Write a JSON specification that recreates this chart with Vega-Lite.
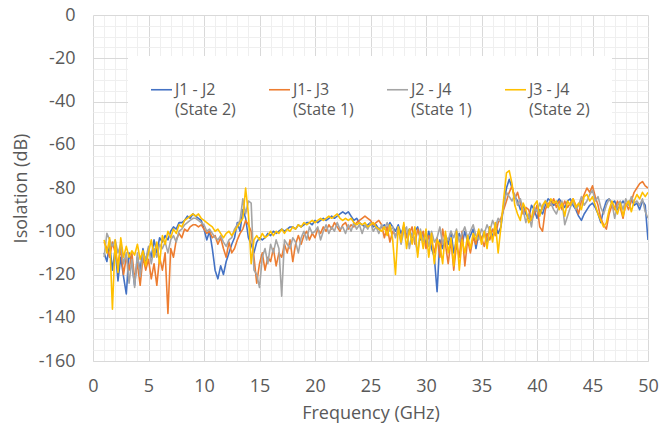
{
"$schema": "https://vega.github.io/schema/vega-lite/v6.json",
"autosize": "none",
"width": 555,
"height": 346,
"padding": {"left": 93, "top": 15, "right": 13, "bottom": 67},
"background": "white",
"config": {"view": {"stroke": null}, "font": "Open Sans"},
"data": {"values": [
{"f":1.0,"s":"a","v":-110},{"f":1.0,"s":"b","v":-105},{"f":1.0,"s":"c","v":-112},{"f":1.0,"s":"d","v":-104},
{"f":1.25,"s":"a","v":-114},{"f":1.25,"s":"b","v":-108},{"f":1.25,"s":"c","v":-101},{"f":1.25,"s":"d","v":-110},
{"f":1.5,"s":"a","v":-106},{"f":1.5,"s":"b","v":-112},{"f":1.5,"s":"c","v":-104},{"f":1.5,"s":"d","v":-103},
{"f":1.75,"s":"a","v":-118},{"f":1.75,"s":"b","v":-105},{"f":1.75,"s":"c","v":-107},{"f":1.75,"s":"d","v":-136},
{"f":2.0,"s":"a","v":-108},{"f":2.0,"s":"b","v":-110},{"f":2.0,"s":"c","v":-104},{"f":2.0,"s":"d","v":-104},
{"f":2.25,"s":"a","v":-123},{"f":2.25,"s":"b","v":-115},{"f":2.25,"s":"c","v":-110},{"f":2.25,"s":"d","v":-119},
{"f":2.5,"s":"a","v":-112},{"f":2.5,"s":"b","v":-108},{"f":2.5,"s":"c","v":-106},{"f":2.5,"s":"d","v":-103},
{"f":2.75,"s":"a","v":-121},{"f":2.75,"s":"b","v":-120},{"f":2.75,"s":"c","v":-115},{"f":2.75,"s":"d","v":-112},
{"f":3.0,"s":"a","v":-129},{"f":3.0,"s":"b","v":-112},{"f":3.0,"s":"c","v":-110},{"f":3.0,"s":"d","v":-107},
{"f":3.25,"s":"a","v":-110},{"f":3.25,"s":"b","v":-118},{"f":3.25,"s":"c","v":-124},{"f":3.25,"s":"d","v":-112},
{"f":3.5,"s":"a","v":-115},{"f":3.5,"s":"b","v":-110},{"f":3.5,"s":"c","v":-113},{"f":3.5,"s":"d","v":-109},
{"f":3.75,"s":"a","v":-125},{"f":3.75,"s":"b","v":-122},{"f":3.75,"s":"c","v":-126},{"f":3.75,"s":"d","v":-111},
{"f":4.0,"s":"a","v":-112},{"f":4.0,"s":"b","v":-115},{"f":4.0,"s":"c","v":-110},{"f":4.0,"s":"d","v":-106},
{"f":4.25,"s":"a","v":-118},{"f":4.25,"s":"b","v":-125},{"f":4.25,"s":"c","v":-121},{"f":4.25,"s":"d","v":-113},
{"f":4.5,"s":"a","v":-108},{"f":4.5,"s":"b","v":-112},{"f":4.5,"s":"c","v":-110},{"f":4.5,"s":"d","v":-109},
{"f":4.75,"s":"a","v":-115},{"f":4.75,"s":"b","v":-118},{"f":4.75,"s":"c","v":-113},{"f":4.75,"s":"d","v":-116},
{"f":5.0,"s":"a","v":-108},{"f":5.0,"s":"b","v":-113},{"f":5.0,"s":"c","v":-107},{"f":5.0,"s":"d","v":-110},
{"f":5.25,"s":"a","v":-112},{"f":5.25,"s":"b","v":-122},{"f":5.25,"s":"c","v":-115},{"f":5.25,"s":"d","v":-104},
{"f":5.5,"s":"a","v":-104},{"f":5.5,"s":"b","v":-115},{"f":5.5,"s":"c","v":-108},{"f":5.5,"s":"d","v":-112},
{"f":5.75,"s":"a","v":-110},{"f":5.75,"s":"b","v":-125},{"f":5.75,"s":"c","v":-112},{"f":5.75,"s":"d","v":-105},
{"f":6.0,"s":"a","v":-103},{"f":6.0,"s":"b","v":-112},{"f":6.0,"s":"c","v":-106},{"f":6.0,"s":"d","v":-115},
{"f":6.25,"s":"a","v":-105},{"f":6.25,"s":"b","v":-118},{"f":6.25,"s":"c","v":-108},{"f":6.25,"s":"d","v":-102},
{"f":6.5,"s":"a","v":-102},{"f":6.5,"s":"b","v":-110},{"f":6.5,"s":"c","v":-105},{"f":6.5,"s":"d","v":-106},
{"f":6.75,"s":"a","v":-104},{"f":6.75,"s":"b","v":-138},{"f":6.75,"s":"c","v":-110},{"f":6.75,"s":"d","v":-100},
{"f":7.0,"s":"a","v":-100},{"f":7.0,"s":"b","v":-108},{"f":7.0,"s":"c","v":-104},{"f":7.0,"s":"d","v":-103},
{"f":7.25,"s":"a","v":-98},{"f":7.25,"s":"b","v":-112},{"f":7.25,"s":"c","v":-102},{"f":7.25,"s":"d","v":-99},
{"f":7.5,"s":"a","v":-99},{"f":7.5,"s":"b","v":-104},{"f":7.5,"s":"c","v":-105},{"f":7.5,"s":"d","v":-101},
{"f":7.75,"s":"a","v":-96},{"f":7.75,"s":"b","v":-101},{"f":7.75,"s":"c","v":-100},{"f":7.75,"s":"d","v":-97},
{"f":8.0,"s":"a","v":-96},{"f":8.0,"s":"b","v":-103},{"f":8.0,"s":"c","v":-99},{"f":8.0,"s":"d","v":-98},
{"f":8.25,"s":"a","v":-95},{"f":8.25,"s":"b","v":-99},{"f":8.25,"s":"c","v":-97},{"f":8.25,"s":"d","v":-95},
{"f":8.5,"s":"a","v":-93},{"f":8.5,"s":"b","v":-100},{"f":8.5,"s":"c","v":-96},{"f":8.5,"s":"d","v":-94},
{"f":8.75,"s":"a","v":-94},{"f":8.75,"s":"b","v":-98},{"f":8.75,"s":"c","v":-95},{"f":8.75,"s":"d","v":-93},
{"f":9.0,"s":"a","v":-92},{"f":9.0,"s":"b","v":-97},{"f":9.0,"s":"c","v":-94},{"f":9.0,"s":"d","v":-92},
{"f":9.25,"s":"a","v":-93},{"f":9.25,"s":"b","v":-97},{"f":9.25,"s":"c","v":-94},{"f":9.25,"s":"d","v":-93},
{"f":9.5,"s":"a","v":-94},{"f":9.5,"s":"b","v":-98},{"f":9.5,"s":"c","v":-95},{"f":9.5,"s":"d","v":-92},
{"f":9.75,"s":"a","v":-95},{"f":9.75,"s":"b","v":-97},{"f":9.75,"s":"c","v":-96},{"f":9.75,"s":"d","v":-94},
{"f":10.0,"s":"a","v":-99},{"f":10.0,"s":"b","v":-99},{"f":10.0,"s":"c","v":-97},{"f":10.0,"s":"d","v":-95},
{"f":10.25,"s":"a","v":-104},{"f":10.25,"s":"b","v":-101},{"f":10.25,"s":"c","v":-100},{"f":10.25,"s":"d","v":-96},
{"f":10.5,"s":"a","v":-100},{"f":10.5,"s":"b","v":-100},{"f":10.5,"s":"c","v":-99},{"f":10.5,"s":"d","v":-97},
{"f":10.75,"s":"a","v":-108},{"f":10.75,"s":"b","v":-103},{"f":10.75,"s":"c","v":-101},{"f":10.75,"s":"d","v":-98},
{"f":11.0,"s":"a","v":-118},{"f":11.0,"s":"b","v":-102},{"f":11.0,"s":"c","v":-103},{"f":11.0,"s":"d","v":-100},
{"f":11.25,"s":"a","v":-122},{"f":11.25,"s":"b","v":-106},{"f":11.25,"s":"c","v":-104},{"f":11.25,"s":"d","v":-99},
{"f":11.5,"s":"a","v":-116},{"f":11.5,"s":"b","v":-103},{"f":11.5,"s":"c","v":-102},{"f":11.5,"s":"d","v":-101},
{"f":11.75,"s":"a","v":-120},{"f":11.75,"s":"b","v":-108},{"f":11.75,"s":"c","v":-105},{"f":11.75,"s":"d","v":-103},
{"f":12.0,"s":"a","v":-114},{"f":12.0,"s":"b","v":-112},{"f":12.0,"s":"c","v":-107},{"f":12.0,"s":"d","v":-101},
{"f":12.25,"s":"a","v":-110},{"f":12.25,"s":"b","v":-105},{"f":12.25,"s":"c","v":-104},{"f":12.25,"s":"d","v":-100},
{"f":12.5,"s":"a","v":-106},{"f":12.5,"s":"b","v":-110},{"f":12.5,"s":"c","v":-103},{"f":12.5,"s":"d","v":-102},
{"f":12.75,"s":"a","v":-103},{"f":12.75,"s":"b","v":-108},{"f":12.75,"s":"c","v":-99},{"f":12.75,"s":"d","v":-100},
{"f":13.0,"s":"a","v":-96},{"f":13.0,"s":"b","v":-104},{"f":13.0,"s":"c","v":-97},{"f":13.0,"s":"d","v":-98},
{"f":13.25,"s":"a","v":-100},{"f":13.25,"s":"b","v":-101},{"f":13.25,"s":"c","v":-95},{"f":13.25,"s":"d","v":-96},
{"f":13.5,"s":"a","v":-90},{"f":13.5,"s":"b","v":-99},{"f":13.5,"s":"c","v":-85},{"f":13.5,"s":"d","v":-94},
{"f":13.75,"s":"a","v":-94},{"f":13.75,"s":"b","v":-95},{"f":13.75,"s":"c","v":-92},{"f":13.75,"s":"d","v":-80},
{"f":14.0,"s":"a","v":-103},{"f":14.0,"s":"b","v":-97},{"f":14.0,"s":"c","v":-86},{"f":14.0,"s":"d","v":-92},
{"f":14.25,"s":"a","v":-106},{"f":14.25,"s":"b","v":-100},{"f":14.25,"s":"c","v":-87},{"f":14.25,"s":"d","v":-115},
{"f":14.5,"s":"a","v":-110},{"f":14.5,"s":"b","v":-112},{"f":14.5,"s":"c","v":-118},{"f":14.5,"s":"d","v":-104},
{"f":14.75,"s":"a","v":-105},{"f":14.75,"s":"b","v":-124},{"f":14.75,"s":"c","v":-120},{"f":14.75,"s":"d","v":-102},
{"f":15.0,"s":"a","v":-103},{"f":15.0,"s":"b","v":-115},{"f":15.0,"s":"c","v":-126},{"f":15.0,"s":"d","v":-104},
{"f":15.25,"s":"a","v":-104},{"f":15.25,"s":"b","v":-110},{"f":15.25,"s":"c","v":-112},{"f":15.25,"s":"d","v":-101},
{"f":15.5,"s":"a","v":-103},{"f":15.5,"s":"b","v":-118},{"f":15.5,"s":"c","v":-108},{"f":15.5,"s":"d","v":-103},
{"f":15.75,"s":"a","v":-101},{"f":15.75,"s":"b","v":-112},{"f":15.75,"s":"c","v":-115},{"f":15.75,"s":"d","v":-102},
{"f":16.0,"s":"a","v":-102},{"f":16.0,"s":"b","v":-114},{"f":16.0,"s":"c","v":-106},{"f":16.0,"s":"d","v":-100},
{"f":16.25,"s":"a","v":-100},{"f":16.25,"s":"b","v":-108},{"f":16.25,"s":"c","v":-110},{"f":16.25,"s":"d","v":-102},
{"f":16.5,"s":"a","v":-101},{"f":16.5,"s":"b","v":-116},{"f":16.5,"s":"c","v":-104},{"f":16.5,"s":"d","v":-100},
{"f":16.75,"s":"a","v":-100},{"f":16.75,"s":"b","v":-110},{"f":16.75,"s":"c","v":-108},{"f":16.75,"s":"d","v":-101},
{"f":17.0,"s":"a","v":-99},{"f":17.0,"s":"b","v":-112},{"f":17.0,"s":"c","v":-130},{"f":17.0,"s":"d","v":-99},
{"f":17.25,"s":"a","v":-100},{"f":17.25,"s":"b","v":-106},{"f":17.25,"s":"c","v":-104},{"f":17.25,"s":"d","v":-101},
{"f":17.5,"s":"a","v":-99},{"f":17.5,"s":"b","v":-110},{"f":17.5,"s":"c","v":-106},{"f":17.5,"s":"d","v":-99},
{"f":17.75,"s":"a","v":-98},{"f":17.75,"s":"b","v":-104},{"f":17.75,"s":"c","v":-108},{"f":17.75,"s":"d","v":-100},
{"f":18.0,"s":"a","v":-98},{"f":18.0,"s":"b","v":-114},{"f":18.0,"s":"c","v":-103},{"f":18.0,"s":"d","v":-98},
{"f":18.25,"s":"a","v":-99},{"f":18.25,"s":"b","v":-106},{"f":18.25,"s":"c","v":-105},{"f":18.25,"s":"d","v":-99},
{"f":18.5,"s":"a","v":-97},{"f":18.5,"s":"b","v":-102},{"f":18.5,"s":"c","v":-110},{"f":18.5,"s":"d","v":-97},
{"f":18.75,"s":"a","v":-98},{"f":18.75,"s":"b","v":-106},{"f":18.75,"s":"c","v":-103},{"f":18.75,"s":"d","v":-98},
{"f":19.0,"s":"a","v":-97},{"f":19.0,"s":"b","v":-102},{"f":19.0,"s":"c","v":-100},{"f":19.0,"s":"d","v":-96},
{"f":19.25,"s":"a","v":-96},{"f":19.25,"s":"b","v":-100},{"f":19.25,"s":"c","v":-104},{"f":19.25,"s":"d","v":-97},
{"f":19.5,"s":"a","v":-96},{"f":19.5,"s":"b","v":-104},{"f":19.5,"s":"c","v":-98},{"f":19.5,"s":"d","v":-96},
{"f":19.75,"s":"a","v":-97},{"f":19.75,"s":"b","v":-101},{"f":19.75,"s":"c","v":-101},{"f":19.75,"s":"d","v":-95},
{"f":20.0,"s":"a","v":-95},{"f":20.0,"s":"b","v":-103},{"f":20.0,"s":"c","v":-100},{"f":20.0,"s":"d","v":-96},
{"f":20.25,"s":"a","v":-96},{"f":20.25,"s":"b","v":-99},{"f":20.25,"s":"c","v":-98},{"f":20.25,"s":"d","v":-95},
{"f":20.5,"s":"a","v":-95},{"f":20.5,"s":"b","v":-101},{"f":20.5,"s":"c","v":-104},{"f":20.5,"s":"d","v":-94},
{"f":20.75,"s":"a","v":-94},{"f":20.75,"s":"b","v":-98},{"f":20.75,"s":"c","v":-100},{"f":20.75,"s":"d","v":-95},
{"f":21.0,"s":"a","v":-95},{"f":21.0,"s":"b","v":-100},{"f":21.0,"s":"c","v":-97},{"f":21.0,"s":"d","v":-94},
{"f":21.25,"s":"a","v":-94},{"f":21.25,"s":"b","v":-97},{"f":21.25,"s":"c","v":-101},{"f":21.25,"s":"d","v":-93},
{"f":21.5,"s":"a","v":-93},{"f":21.5,"s":"b","v":-99},{"f":21.5,"s":"c","v":-98},{"f":21.5,"s":"d","v":-94},
{"f":21.75,"s":"a","v":-94},{"f":21.75,"s":"b","v":-96},{"f":21.75,"s":"c","v":-100},{"f":21.75,"s":"d","v":-93},
{"f":22.0,"s":"a","v":-93},{"f":22.0,"s":"b","v":-98},{"f":22.0,"s":"c","v":-96},{"f":22.0,"s":"d","v":-92},
{"f":22.25,"s":"a","v":-92},{"f":22.25,"s":"b","v":-100},{"f":22.25,"s":"c","v":-99},{"f":22.25,"s":"d","v":-94},
{"f":22.5,"s":"a","v":-91},{"f":22.5,"s":"b","v":-97},{"f":22.5,"s":"c","v":-98},{"f":22.5,"s":"d","v":-95},
{"f":22.75,"s":"a","v":-92},{"f":22.75,"s":"b","v":-96},{"f":22.75,"s":"c","v":-101},{"f":22.75,"s":"d","v":-94},
{"f":23.0,"s":"a","v":-91},{"f":23.0,"s":"b","v":-99},{"f":23.0,"s":"c","v":-97},{"f":23.0,"s":"d","v":-95},
{"f":23.25,"s":"a","v":-93},{"f":23.25,"s":"b","v":-97},{"f":23.25,"s":"c","v":-100},{"f":23.25,"s":"d","v":-94},
{"f":23.5,"s":"a","v":-95},{"f":23.5,"s":"b","v":-98},{"f":23.5,"s":"c","v":-96},{"f":23.5,"s":"d","v":-96},
{"f":23.75,"s":"a","v":-94},{"f":23.75,"s":"b","v":-96},{"f":23.75,"s":"c","v":-99},{"f":23.75,"s":"d","v":-97},
{"f":24.0,"s":"a","v":-96},{"f":24.0,"s":"b","v":-95},{"f":24.0,"s":"c","v":-97},{"f":24.0,"s":"d","v":-96},
{"f":24.25,"s":"a","v":-97},{"f":24.25,"s":"b","v":-94},{"f":24.25,"s":"c","v":-101},{"f":24.25,"s":"d","v":-97},
{"f":24.5,"s":"a","v":-98},{"f":24.5,"s":"b","v":-93},{"f":24.5,"s":"c","v":-97},{"f":24.5,"s":"d","v":-96},
{"f":24.75,"s":"a","v":-97},{"f":24.75,"s":"b","v":-94},{"f":24.75,"s":"c","v":-99},{"f":24.75,"s":"d","v":-98},
{"f":25.0,"s":"a","v":-96},{"f":25.0,"s":"b","v":-95},{"f":25.0,"s":"c","v":-96},{"f":25.0,"s":"d","v":-97},
{"f":25.25,"s":"a","v":-98},{"f":25.25,"s":"b","v":-97},{"f":25.25,"s":"c","v":-100},{"f":25.25,"s":"d","v":-96},
{"f":25.5,"s":"a","v":-97},{"f":25.5,"s":"b","v":-96},{"f":25.5,"s":"c","v":-98},{"f":25.5,"s":"d","v":-98},
{"f":25.75,"s":"a","v":-99},{"f":25.75,"s":"b","v":-95},{"f":25.75,"s":"c","v":-101},{"f":25.75,"s":"d","v":-99},
{"f":26.0,"s":"a","v":-98},{"f":26.0,"s":"b","v":-97},{"f":26.0,"s":"c","v":-97},{"f":26.0,"s":"d","v":-100},
{"f":26.25,"s":"a","v":-97},{"f":26.25,"s":"b","v":-103},{"f":26.25,"s":"c","v":-99},{"f":26.25,"s":"d","v":-98},
{"f":26.5,"s":"a","v":-99},{"f":26.5,"s":"b","v":-98},{"f":26.5,"s":"c","v":-96},{"f":26.5,"s":"d","v":-102},
{"f":26.75,"s":"a","v":-96},{"f":26.75,"s":"b","v":-105},{"f":26.75,"s":"c","v":-100},{"f":26.75,"s":"d","v":-97},
{"f":27.0,"s":"a","v":-98},{"f":27.0,"s":"b","v":-100},{"f":27.0,"s":"c","v":-98},{"f":27.0,"s":"d","v":-104},
{"f":27.25,"s":"a","v":-100},{"f":27.25,"s":"b","v":-102},{"f":27.25,"s":"c","v":-103},{"f":27.25,"s":"d","v":-120},
{"f":27.5,"s":"a","v":-97},{"f":27.5,"s":"b","v":-99},{"f":27.5,"s":"c","v":-98},{"f":27.5,"s":"d","v":-98},
{"f":27.75,"s":"a","v":-101},{"f":27.75,"s":"b","v":-104},{"f":27.75,"s":"c","v":-106},{"f":27.75,"s":"d","v":-105},
{"f":28.0,"s":"a","v":-98},{"f":28.0,"s":"b","v":-97},{"f":28.0,"s":"c","v":-100},{"f":28.0,"s":"d","v":-96},
{"f":28.25,"s":"a","v":-102},{"f":28.25,"s":"b","v":-103},{"f":28.25,"s":"c","v":-98},{"f":28.25,"s":"d","v":-108},
{"f":28.5,"s":"a","v":-99},{"f":28.5,"s":"b","v":-101},{"f":28.5,"s":"c","v":-108},{"f":28.5,"s":"d","v":-99},
{"f":28.75,"s":"a","v":-103},{"f":28.75,"s":"b","v":-98},{"f":28.75,"s":"c","v":-101},{"f":28.75,"s":"d","v":-106},
{"f":29.0,"s":"a","v":-100},{"f":29.0,"s":"b","v":-106},{"f":29.0,"s":"c","v":-104},{"f":29.0,"s":"d","v":-98},
{"f":29.25,"s":"a","v":-98},{"f":29.25,"s":"b","v":-99},{"f":29.25,"s":"c","v":-110},{"f":29.25,"s":"d","v":-112},
{"f":29.5,"s":"a","v":-104},{"f":29.5,"s":"b","v":-103},{"f":29.5,"s":"c","v":-99},{"f":29.5,"s":"d","v":-100},
{"f":29.75,"s":"a","v":-101},{"f":29.75,"s":"b","v":-100},{"f":29.75,"s":"c","v":-105},{"f":29.75,"s":"d","v":-108},
{"f":30.0,"s":"a","v":-106},{"f":30.0,"s":"b","v":-108},{"f":30.0,"s":"c","v":-101},{"f":30.0,"s":"d","v":-99},
{"f":30.25,"s":"a","v":-100},{"f":30.25,"s":"b","v":-102},{"f":30.25,"s":"c","v":-107},{"f":30.25,"s":"d","v":-112},
{"f":30.5,"s":"a","v":-108},{"f":30.5,"s":"b","v":-104},{"f":30.5,"s":"c","v":-100},{"f":30.5,"s":"d","v":-101},
{"f":30.75,"s":"a","v":-112},{"f":30.75,"s":"b","v":-110},{"f":30.75,"s":"c","v":-105},{"f":30.75,"s":"d","v":-115},
{"f":31.0,"s":"a","v":-128},{"f":31.0,"s":"b","v":-103},{"f":31.0,"s":"c","v":-103},{"f":31.0,"s":"d","v":-104},
{"f":31.25,"s":"a","v":-104},{"f":31.25,"s":"b","v":-112},{"f":31.25,"s":"c","v":-98},{"f":31.25,"s":"d","v":-106},
{"f":31.5,"s":"a","v":-108},{"f":31.5,"s":"b","v":-99},{"f":31.5,"s":"c","v":-106},{"f":31.5,"s":"d","v":-115},
{"f":31.75,"s":"a","v":-102},{"f":31.75,"s":"b","v":-106},{"f":31.75,"s":"c","v":-102},{"f":31.75,"s":"d","v":-100},
{"f":32.0,"s":"a","v":-106},{"f":32.0,"s":"b","v":-115},{"f":32.0,"s":"c","v":-104},{"f":32.0,"s":"d","v":-110},
{"f":32.25,"s":"a","v":-100},{"f":32.25,"s":"b","v":-104},{"f":32.25,"s":"c","v":-100},{"f":32.25,"s":"d","v":-103},
{"f":32.5,"s":"a","v":-110},{"f":32.5,"s":"b","v":-118},{"f":32.5,"s":"c","v":-103},{"f":32.5,"s":"d","v":-116},
{"f":32.75,"s":"a","v":-104},{"f":32.75,"s":"b","v":-106},{"f":32.75,"s":"c","v":-99},{"f":32.75,"s":"d","v":-100},
{"f":33.0,"s":"a","v":-101},{"f":33.0,"s":"b","v":-112},{"f":33.0,"s":"c","v":-105},{"f":33.0,"s":"d","v":-118},
{"f":33.25,"s":"a","v":-106},{"f":33.25,"s":"b","v":-100},{"f":33.25,"s":"c","v":-101},{"f":33.25,"s":"d","v":-104},
{"f":33.5,"s":"a","v":-100},{"f":33.5,"s":"b","v":-116},{"f":33.5,"s":"c","v":-98},{"f":33.5,"s":"d","v":-110},
{"f":33.75,"s":"a","v":-105},{"f":33.75,"s":"b","v":-104},{"f":33.75,"s":"c","v":-103},{"f":33.75,"s":"d","v":-102},
{"f":34.0,"s":"a","v":-102},{"f":34.0,"s":"b","v":-110},{"f":34.0,"s":"c","v":-100},{"f":34.0,"s":"d","v":-108},
{"f":34.25,"s":"a","v":-99},{"f":34.25,"s":"b","v":-103},{"f":34.25,"s":"c","v":-97},{"f":34.25,"s":"d","v":-101},
{"f":34.5,"s":"a","v":-108},{"f":34.5,"s":"b","v":-106},{"f":34.5,"s":"c","v":-102},{"f":34.5,"s":"d","v":-104},
{"f":34.75,"s":"a","v":-101},{"f":34.75,"s":"b","v":-100},{"f":34.75,"s":"c","v":-104},{"f":34.75,"s":"d","v":-99},
{"f":35.0,"s":"a","v":-104},{"f":35.0,"s":"b","v":-103},{"f":35.0,"s":"c","v":-99},{"f":35.0,"s":"d","v":-106},
{"f":35.25,"s":"a","v":-100},{"f":35.25,"s":"b","v":-107},{"f":35.25,"s":"c","v":-101},{"f":35.25,"s":"d","v":-100},
{"f":35.5,"s":"a","v":-106},{"f":35.5,"s":"b","v":-101},{"f":35.5,"s":"c","v":-97},{"f":35.5,"s":"d","v":-108},
{"f":35.75,"s":"a","v":-98},{"f":35.75,"s":"b","v":-104},{"f":35.75,"s":"c","v":-100},{"f":35.75,"s":"d","v":-98},
{"f":36.0,"s":"a","v":-103},{"f":36.0,"s":"b","v":-99},{"f":36.0,"s":"c","v":-95},{"f":36.0,"s":"d","v":-105},
{"f":36.25,"s":"a","v":-97},{"f":36.25,"s":"b","v":-102},{"f":36.25,"s":"c","v":-98},{"f":36.25,"s":"d","v":-96},
{"f":36.5,"s":"a","v":-101},{"f":36.5,"s":"b","v":-96},{"f":36.5,"s":"c","v":-94},{"f":36.5,"s":"d","v":-110},
{"f":36.75,"s":"a","v":-98},{"f":36.75,"s":"b","v":-94},{"f":36.75,"s":"c","v":-96},{"f":36.75,"s":"d","v":-98},
{"f":37.0,"s":"a","v":-88},{"f":37.0,"s":"b","v":-90},{"f":37.0,"s":"c","v":-88},{"f":37.0,"s":"d","v":-85},
{"f":37.25,"s":"a","v":-80},{"f":37.25,"s":"b","v":-86},{"f":37.25,"s":"c","v":-82},{"f":37.25,"s":"d","v":-73},
{"f":37.5,"s":"a","v":-76},{"f":37.5,"s":"b","v":-82},{"f":37.5,"s":"c","v":-84},{"f":37.5,"s":"d","v":-72},
{"f":37.75,"s":"a","v":-80},{"f":37.75,"s":"b","v":-79},{"f":37.75,"s":"c","v":-86},{"f":37.75,"s":"d","v":-78},
{"f":38.0,"s":"a","v":-84},{"f":38.0,"s":"b","v":-85},{"f":38.0,"s":"c","v":-83},{"f":38.0,"s":"d","v":-88},
{"f":38.25,"s":"a","v":-86},{"f":38.25,"s":"b","v":-82},{"f":38.25,"s":"c","v":-88},{"f":38.25,"s":"d","v":-92},
{"f":38.5,"s":"a","v":-90},{"f":38.5,"s":"b","v":-87},{"f":38.5,"s":"c","v":-85},{"f":38.5,"s":"d","v":-95},
{"f":38.75,"s":"a","v":-88},{"f":38.75,"s":"b","v":-92},{"f":38.75,"s":"c","v":-90},{"f":38.75,"s":"d","v":-87},
{"f":39.0,"s":"a","v":-92},{"f":39.0,"s":"b","v":-89},{"f":39.0,"s":"c","v":-96},{"f":39.0,"s":"d","v":-90},
{"f":39.25,"s":"a","v":-94},{"f":39.25,"s":"b","v":-90},{"f":39.25,"s":"c","v":-92},{"f":39.25,"s":"d","v":-96},
{"f":39.5,"s":"a","v":-88},{"f":39.5,"s":"b","v":-95},{"f":39.5,"s":"c","v":-98},{"f":39.5,"s":"d","v":-94},
{"f":39.75,"s":"a","v":-90},{"f":39.75,"s":"b","v":-92},{"f":39.75,"s":"c","v":-89},{"f":39.75,"s":"d","v":-88},
{"f":40.0,"s":"a","v":-94},{"f":40.0,"s":"b","v":-88},{"f":40.0,"s":"c","v":-91},{"f":40.0,"s":"d","v":-86},
{"f":40.25,"s":"a","v":-90},{"f":40.25,"s":"b","v":-98},{"f":40.25,"s":"c","v":-87},{"f":40.25,"s":"d","v":-93},
{"f":40.5,"s":"a","v":-92},{"f":40.5,"s":"b","v":-100},{"f":40.5,"s":"c","v":-90},{"f":40.5,"s":"d","v":-88},
{"f":40.75,"s":"a","v":-88},{"f":40.75,"s":"b","v":-90},{"f":40.75,"s":"c","v":-86},{"f":40.75,"s":"d","v":-86},
{"f":41.0,"s":"a","v":-85},{"f":41.0,"s":"b","v":-87},{"f":41.0,"s":"c","v":-89},{"f":41.0,"s":"d","v":-89},
{"f":41.25,"s":"a","v":-86},{"f":41.25,"s":"b","v":-88},{"f":41.25,"s":"c","v":-87},{"f":41.25,"s":"d","v":-85},
{"f":41.5,"s":"a","v":-88},{"f":41.5,"s":"b","v":-85},{"f":41.5,"s":"c","v":-90},{"f":41.5,"s":"d","v":-87},
{"f":41.75,"s":"a","v":-87},{"f":41.75,"s":"b","v":-89},{"f":41.75,"s":"c","v":-92},{"f":41.75,"s":"d","v":-86},
{"f":42.0,"s":"a","v":-85},{"f":42.0,"s":"b","v":-86},{"f":42.0,"s":"c","v":-88},{"f":42.0,"s":"d","v":-90},
{"f":42.25,"s":"a","v":-87},{"f":42.25,"s":"b","v":-90},{"f":42.25,"s":"c","v":-86},{"f":42.25,"s":"d","v":-87},
{"f":42.5,"s":"a","v":-89},{"f":42.5,"s":"b","v":-86},{"f":42.5,"s":"c","v":-97},{"f":42.5,"s":"d","v":-93},
{"f":42.75,"s":"a","v":-86},{"f":42.75,"s":"b","v":-89},{"f":42.75,"s":"c","v":-93},{"f":42.75,"s":"d","v":-86},
{"f":43.0,"s":"a","v":-85},{"f":43.0,"s":"b","v":-87},{"f":43.0,"s":"c","v":-89},{"f":43.0,"s":"d","v":-88},
{"f":43.25,"s":"a","v":-88},{"f":43.25,"s":"b","v":-85},{"f":43.25,"s":"c","v":-86},{"f":43.25,"s":"d","v":-85},
{"f":43.5,"s":"a","v":-90},{"f":43.5,"s":"b","v":-88},{"f":43.5,"s":"c","v":-90},{"f":43.5,"s":"d","v":-89},
{"f":43.75,"s":"a","v":-93},{"f":43.75,"s":"b","v":-92},{"f":43.75,"s":"c","v":-88},{"f":43.75,"s":"d","v":-87},
{"f":44.0,"s":"a","v":-95},{"f":44.0,"s":"b","v":-86},{"f":44.0,"s":"c","v":-84},{"f":44.0,"s":"d","v":-90},
{"f":44.25,"s":"a","v":-92},{"f":44.25,"s":"b","v":-83},{"f":44.25,"s":"c","v":-88},{"f":44.25,"s":"d","v":-84},
{"f":44.5,"s":"a","v":-90},{"f":44.5,"s":"b","v":-80},{"f":44.5,"s":"c","v":-86},{"f":44.5,"s":"d","v":-83},
{"f":44.75,"s":"a","v":-88},{"f":44.75,"s":"b","v":-82},{"f":44.75,"s":"c","v":-83},{"f":44.75,"s":"d","v":-86},
{"f":45.0,"s":"a","v":-87},{"f":45.0,"s":"b","v":-79},{"f":45.0,"s":"c","v":-81},{"f":45.0,"s":"d","v":-84},
{"f":45.25,"s":"a","v":-89},{"f":45.25,"s":"b","v":-84},{"f":45.25,"s":"c","v":-86},{"f":45.25,"s":"d","v":-88},
{"f":45.5,"s":"a","v":-92},{"f":45.5,"s":"b","v":-88},{"f":45.5,"s":"c","v":-84},{"f":45.5,"s":"d","v":-92},
{"f":45.75,"s":"a","v":-96},{"f":45.75,"s":"b","v":-94},{"f":45.75,"s":"c","v":-89},{"f":45.75,"s":"d","v":-95},
{"f":46.0,"s":"a","v":-90},{"f":46.0,"s":"b","v":-97},{"f":46.0,"s":"c","v":-92},{"f":46.0,"s":"d","v":-98},
{"f":46.25,"s":"a","v":-86},{"f":46.25,"s":"b","v":-99},{"f":46.25,"s":"c","v":-88},{"f":46.25,"s":"d","v":-96},
{"f":46.5,"s":"a","v":-85},{"f":46.5,"s":"b","v":-92},{"f":46.5,"s":"c","v":-85},{"f":46.5,"s":"d","v":-90},
{"f":46.75,"s":"a","v":-87},{"f":46.75,"s":"b","v":-88},{"f":46.75,"s":"c","v":-87},{"f":46.75,"s":"d","v":-86},
{"f":47.0,"s":"a","v":-86},{"f":47.0,"s":"b","v":-90},{"f":47.0,"s":"c","v":-94},{"f":47.0,"s":"d","v":-89},
{"f":47.25,"s":"a","v":-90},{"f":47.25,"s":"b","v":-86},{"f":47.25,"s":"c","v":-88},{"f":47.25,"s":"d","v":-92},
{"f":47.5,"s":"a","v":-88},{"f":47.5,"s":"b","v":-89},{"f":47.5,"s":"c","v":-86},{"f":47.5,"s":"d","v":-87},
{"f":47.75,"s":"a","v":-86},{"f":47.75,"s":"b","v":-94},{"f":47.75,"s":"c","v":-90},{"f":47.75,"s":"d","v":-93},
{"f":48.0,"s":"a","v":-88},{"f":48.0,"s":"b","v":-87},{"f":48.0,"s":"c","v":-85},{"f":48.0,"s":"d","v":-88},
{"f":48.25,"s":"a","v":-87},{"f":48.25,"s":"b","v":-90},{"f":48.25,"s":"c","v":-88},{"f":48.25,"s":"d","v":-86},
{"f":48.5,"s":"a","v":-85},{"f":48.5,"s":"b","v":-86},{"f":48.5,"s":"c","v":-84},{"f":48.5,"s":"d","v":-91},
{"f":48.75,"s":"a","v":-88},{"f":48.75,"s":"b","v":-82},{"f":48.75,"s":"c","v":-87},{"f":48.75,"s":"d","v":-86},
{"f":49.0,"s":"a","v":-87},{"f":49.0,"s":"b","v":-80},{"f":49.0,"s":"c","v":-86},{"f":49.0,"s":"d","v":-83},
{"f":49.25,"s":"a","v":-90},{"f":49.25,"s":"b","v":-78},{"f":49.25,"s":"c","v":-88},{"f":49.25,"s":"d","v":-85},
{"f":49.5,"s":"a","v":-86},{"f":49.5,"s":"b","v":-77},{"f":49.5,"s":"c","v":-85},{"f":49.5,"s":"d","v":-82},
{"f":49.75,"s":"a","v":-88},{"f":49.75,"s":"b","v":-79},{"f":49.75,"s":"c","v":-91},{"f":49.75,"s":"d","v":-84},
{"f":50.0,"s":"a","v":-104},{"f":50.0,"s":"b","v":-80},{"f":50.0,"s":"c","v":-94},{"f":50.0,"s":"d","v":-82}
]},
"mark": {"type": "line", "strokeWidth": 1.6, "strokeJoin": "round", "clip": true},
"encoding": {
  "x": {"field": "f", "type": "quantitative",
    "scale": {"domain": [0, 50], "nice": false, "zero": false},
    "axis": {"title": "Frequency (GHz)", "titleFontSize": 18, "titleFontWeight": "normal", "titleColor": "#595959", "titlePadding": 9,
      "values": [0,1,2,3,4,5,6,7,8,9,10,11,12,13,14,15,16,17,18,19,20,21,22,23,24,25,26,27,28,29,30,31,32,33,34,35,36,37,38,39,40,41,42,43,44,45,46,47,48,49,50],
      "labelExpr": "datum.value % 5 === 0 ? '' + datum.value : ''",
      "labelFontSize": 18, "labelColor": "#595959", "labelPadding": 16, "ticks": false,
      "domainColor": "#d9d9d9", "labelFlush": false, "labelOverlap": false,
      "grid": true,
      "gridColor": {"condition": {"test": "datum.value % 5 === 0", "value": "#d9d9d9"}, "value": "#efefef"}}},
  "y": {"field": "v", "type": "quantitative",
    "scale": {"domain": [-160, 0], "nice": false},
    "axis": {"title": "Isolation (dB)", "titleFontSize": 18, "titleFontWeight": "normal", "titleColor": "#595959", "titlePadding": 8,
      "values": [-160,-155,-150,-145,-140,-135,-130,-125,-120,-115,-110,-105,-100,-95,-90,-85,-80,-75,-70,-65,-60,-55,-50,-45,-40,-35,-30,-25,-20,-15,-10,-5,0],
      "labelExpr": "datum.value % 20 === 0 ? '' + datum.value : ''",
      "labelFontSize": 18, "labelColor": "#595959", "labelPadding": 18, "ticks": false,
      "domain": false, "labelOverlap": false,
      "grid": true,
      "gridColor": {"condition": {"test": "datum.value % 20 === 0", "value": "#d9d9d9"}, "value": "#efefef"}}},
  "color": {"field": "s", "type": "nominal",
    "scale": {"domain": ["a","b","c","d"], "range": ["#4472C4","#ED7D31","#A5A5A5","#FFC000"]},
    "legend": {"orient": "none", "legendX": 35, "legendY": 41, "direction": "horizontal", "columns": 4,
      "title": null, "fillColor": "white", "padding": 22, "columnPadding": 29,
      "symbolType": "stroke", "symbolSize": 441, "symbolStrokeWidth": 1.6,
      "labelFontSize": 16, "labelColor": "#595959", "labelOffset": 2,
      "labelExpr": "datum.label == 'a' ? ['J1 - J2', '(State 2)'] : datum.label == 'b' ? ['J1- J3', '(State 1)'] : datum.label == 'c' ? ['J2 - J4', '(State 1)'] : ['J3 - J4', '(State 2)']",
      "encode": {"labels": {"update": {"lineHeight": {"value": 20}}}}}}
}
}
